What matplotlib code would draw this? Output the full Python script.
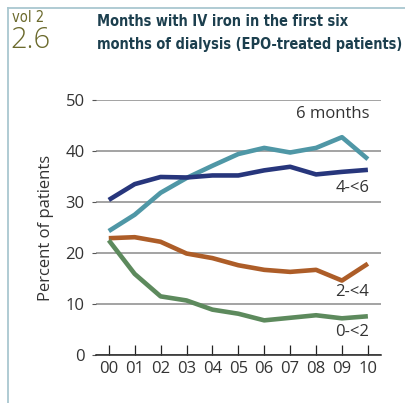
import matplotlib
matplotlib.use("Agg")
import matplotlib.pyplot as plt
from matplotlib.lines import Line2D

years = ["00", "01", "02", "03", "04", "05", "06", "07", "08", "09", "10"]
six_months = [24.3, 27.5, 31.8, 34.7, 37.1, 39.4, 40.6, 39.7, 40.6, 42.7, 38.4]
four_to_six = [30.4, 33.5, 34.9, 34.8, 35.2, 35.2, 36.2, 36.9, 35.4, 35.9, 36.3]
two_to_four = [22.9, 23.1, 22.2, 19.9, 19.0, 17.6, 16.7, 16.3, 16.7, 14.6, 17.9]
zero_to_two = [22.5, 15.9, 11.5, 10.7, 8.9, 8.1, 6.8, 7.3, 7.8, 7.2, 7.6]
series_labels = ["6 months", "4-<6", "2-<4", "0-<2"]

colors = ["#4f97a6", "#27367c", "#ad5d28", "#5d8a5d"]
text_col = "#333333"
plt.rcParams["font.family"] = ["Open Sans", "DejaVu Sans"]
fs = 12

fig = plt.figure(figsize=(4.06, 4.03), dpi=100)
ax = fig.add_axes([0.236, 0.119, 0.702, 0.633])

x = list(range(len(years)))
for vals, c in zip([six_months, four_to_six, two_to_four, zero_to_two], colors):
    ax.plot(x, vals, color=c, lw=3.3, solid_capstyle="butt", solid_joinstyle="round", zorder=3)

ax.set_xlim(-0.5, 10.5)
ax.set_ylim(0, 50)
ax.set_yticks([0, 10, 20, 30, 40, 50])
ax.set_xticks(x)
ax.set_xticklabels(years)
ax.yaxis.grid(True, color="#8a8a8a", lw=1.1)
ax.set_axisbelow(True)
for s in ["top", "right", "left"]:
    ax.spines[s].set_visible(False)
ax.spines["bottom"].set_color("#222222")
ax.spines["bottom"].set_linewidth(1.1)
ax.tick_params(axis="x", direction="in", length=7.5, width=0.9, color="#222222",
               labelsize=fs, labelcolor=text_col, pad=4)
ax.tick_params(axis="y", direction="out", length=3, width=0.8, color="#555555",
               labelsize=fs, labelcolor=text_col, pad=5)
ax.set_ylabel("Percent of patients", fontsize=fs, color=text_col, labelpad=8)

# series labels, right aligned at the end of the lines
label_y = [47.3, 32.7, 12.4, 4.5]
for lab, yy in zip(series_labels, label_y):
    ax.text(10.05, yy, lab, ha="right", va="center", fontsize=fs, color=text_col)

# header
olive = "#6b6a2c"
fig.text(0.030, 0.956, "vol 2", fontsize=10.5, color=olive, va="center",
         family="DejaVu Sans", stretch="condensed")
fig.text(0.025, 0.899, "2.6", fontsize=21, color=olive, va="center", weight="light")

t1 = fig.text(0.238, 0.946, "Months with IV iron in the first six", fontsize=12, weight="bold",
              color="#1c3f4e", va="center", family="DejaVu Sans", stretch="condensed")
t2 = fig.text(0.238, 0.889, "months of dialysis (EPO-treated patients)", fontsize=12, weight="bold",
              color="#1c3f4e", va="center", family="DejaVu Sans", stretch="condensed")

# shrink the two title lines so the second one spans the same width as in the panel
renderer = fig.canvas.get_renderer()
w2 = t2.get_window_extent(renderer).width
scale = 306.0 / w2
for t in (t1, t2):
    t.set_fontsize(12 * scale)

# panel frame
frame_col = "#a9c7d0"
fig.add_artist(Line2D([0.02, 1.0], [0.98, 0.98], color=frame_col, lw=1.3))
fig.add_artist(Line2D([0.02, 0.02], [0.0, 0.98], color=frame_col, lw=1.3))

fig.savefig("out.png", dpi=100)
